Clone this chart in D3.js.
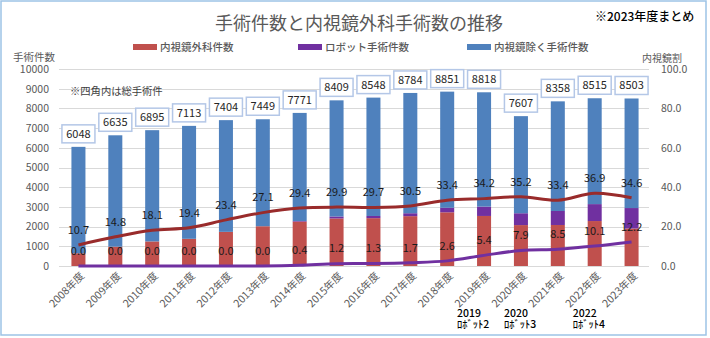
<!DOCTYPE html>
<html>
<head>
<meta charset="utf-8">
<script src="https://cdn.jsdelivr.net/npm/d3@7"></script>
<style>
  body { margin: 0; background: #fff; }
  svg { display: block; font-family: "Noto Sans CJK JP", "Noto Sans", sans-serif; }
</style>
</head>
<body>
<div id="chart"></div>
<script>
// Data
const years = ["2008", "2009", "2010", "2011", "2012", "2013", "2014", "2015",
  "2016", "2017", "2018", "2019", "2020", "2021", "2022", "2023"];
const totals = [6048, 6635, 6895, 7113, 7404, 7449, 7771, 8409, 8548, 8784, 8851, 8818, 7607, 8358, 8515, 8503];
const endoCounts = [647, 982, 1248, 1380, 1733, 2019, 2254, 2413, 2428, 2530, 2726, 2540, 2077, 2082, 2282, 1905];
const robotCounts = [0, 0, 0, 0, 0, 0, 31, 101, 111, 149, 230, 476, 601, 710, 860, 1037];
const otherCounts = [5401, 5653, 5647, 5733, 5671, 5430, 5486, 5895, 6009, 6105, 5895, 5802, 4929, 5566, 5373, 5561];
const endoRatio = [10.7, 14.8, 18.1, 19.4, 23.4, 27.1, 29.4, 29.9, 29.7, 30.5, 33.4, 34.2, 35.2, 33.4, 36.9, 34.6];
const robotRatio = [0.0, 0.0, 0.0, 0.0, 0.0, 0.0, 0.4, 1.2, 1.3, 1.7, 2.6, 5.4, 7.9, 8.5, 10.1, 12.2];
const leftTicks = [0, 1000, 2000, 3000, 4000, 5000, 6000, 7000, 8000, 9000, 10000];
const rightTicks = [0, 20, 40, 60, 80, 100];
const noteYears = ["2019", "2020", "2022"];
const noteLabels = [["2019", "ﾛﾎﾞｯﾄ2"], ["2020", "ﾛﾎﾞｯﾄ3"], ["2022", "ﾛﾎﾞｯﾄ4"]];
const seriesNames = ["内視鏡外科件数", "ロボット手術件数", "内視鏡除く手術件数"];

const W = 710, H = 338;
const plot = { left: 60, right: 650, top: 69, bottom: 266 };
const colors = { endo: "#C0504D", robot: "#7030A0", other: "#4F81BD", endoLine: "#992B2B", robotLine: "#7030A0" };
const noteShift = [-27, -17, -22];

const svg = d3.select("#chart").append("svg")
  .attr("width", W)
  .attr("height", H);

// outer frame
svg.append("rect")
  .attr("x", 1).attr("y", 1)
  .attr("width", 705).attr("height", 334)
  .attr("fill", "#fff")
  .attr("stroke", "#9DC3E6")
  .attr("stroke-width", 1.5);

const x = d3.scaleBand()
  .domain(years)
  .range([plot.left, plot.right])
  .paddingInner(0.62)
  .paddingOuter(0.31);

const y = d3.scaleLinear().domain([0, 10000]).range([plot.bottom, plot.top]);
const yR = d3.scaleLinear().domain([0, 100]).range([plot.bottom, plot.top]);
const cx = d => x(d) + x.bandwidth() / 2;

// gridlines
svg.append("g")
  .selectAll("line")
  .data(leftTicks)
  .join("line")
  .attr("x1", plot.left - 1)
  .attr("x2", plot.right - 1)
  .attr("y1", d => Math.round(y(d)) + 0.5)
  .attr("y2", d => Math.round(y(d)) + 0.5)
  .attr("stroke", "#D9D9D9")
  .attr("stroke-width", 1);

// left axis
const leftAxis = svg.append("g")
  .attr("transform", `translate(${plot.left - 1},0)`)
  .call(d3.axisLeft(y).tickValues(leftTicks).tickSize(0).tickPadding(10).tickFormat(d3.format("d")));
leftAxis.select(".domain").remove();
leftAxis.selectAll("text")
  .attr("fill", "#595959")
  .style("font-size", "10.5px")
  .style("font-family", "'Noto Sans CJK JP'");

// right axis
const rightAxis = svg.append("g")
  .attr("transform", `translate(${plot.right},0)`)
  .call(d3.axisRight(yR).tickValues(rightTicks).tickSize(0).tickPadding(11).tickFormat(d3.format(".1f")));
rightAxis.select(".domain").remove();
rightAxis.selectAll("text")
  .attr("fill", "#595959")
  .style("font-size", "10.5px")
  .style("font-family", "'Noto Sans CJK JP'");

// stacked bars
const rows = years.map((yr, i) => ({ year: yr, endo: endoCounts[i], robot: robotCounts[i], other: otherCounts[i] }));
const stack = d3.stack().keys(["endo", "robot", "other"])(rows);

svg.append("g")
  .selectAll("g")
  .data(stack)
  .join("g")
  .attr("fill", d => colors[d.key])
  .selectAll("rect")
  .data(d => d)
  .join("rect")
  .attr("x", d => x(d.data.year))
  .attr("width", x.bandwidth())
  .attr("y", d => y(d[1]))
  .attr("height", d => y(d[0]) - y(d[1]));

// ratio lines
const lineR = d3.line()
  .x((d, i) => cx(years[i]))
  .y(d => yR(d))
  .curve(d3.curveCatmullRom.alpha(0.5));

svg.append("path")
  .datum(robotRatio)
  .attr("d", lineR)
  .attr("fill", "none")
  .attr("stroke", colors.robotLine)
  .attr("stroke-width", 3);

svg.append("path")
  .datum(endoRatio)
  .attr("d", lineR)
  .attr("fill", "none")
  .attr("stroke", colors.endoLine)
  .attr("stroke-width", 3);

// ratio labels
function ratioLabels(values) {
  svg.append("g")
    .selectAll("text")
    .data(values)
    .join("text")
    .attr("x", (d, i) => cx(years[i]))
    .attr("y", d => yR(d) - 15)
    .attr("dy", "0.35em")
    .attr("text-anchor", "middle")
    .attr("fill", "#1a1a1a")
    .style("font-size", "11px")
    .text(d => d.toFixed(1));
}
ratioLabels(endoRatio);
ratioLabels(robotRatio);

// total boxes
const boxes = svg.append("g")
  .selectAll("g")
  .data(totals)
  .join("g")
  .attr("transform", (d, i) => `translate(${cx(years[i])},${y(d) - 13})`);

boxes.append("rect")
  .attr("x", -16.5)
  .attr("y", -9)
  .attr("width", 33)
  .attr("height", 18)
  .attr("fill", "#fff")
  .attr("stroke", "#B4C7E7")
  .attr("stroke-width", 1.5);

boxes.append("text")
  .attr("text-anchor", "middle")
  .attr("dy", "0.36em")
  .attr("fill", "#262626")
  .style("font-size", "11px")
  .text(d => d);

// x tick labels
svg.append("g")
  .selectAll("text")
  .data(years)
  .join("text")
  .attr("transform", d => `translate(${cx(d) + 4},${plot.bottom + 8}) rotate(-45)`)
  .attr("text-anchor", "end")
  .attr("dy", "0.35em")
  .attr("fill", "#595959")
  .style("font-size", "10.5px")
  .text(d => d + "年度");

// robot generation notes
noteYears.forEach((yr, k) => {
  const nx = cx(yr) + noteShift[k];
  const t = svg.append("text")
    .attr("x", nx)
    .attr("y", 313)
    .attr("fill", "#000")
    .style("font-size", "10.5px")
    .style("font-weight", 500);
  noteLabels[k].forEach((line, i) => {
    t.append("tspan")
      .attr("x", nx)
      .attr("dy", i === 0 ? "0.35em" : "1.1em")
      .text(line);
  });
});

// title
svg.append("text")
  .attr("x", 359)
  .attr("y", 24)
  .attr("dy", "0.35em")
  .attr("text-anchor", "middle")
  .attr("fill", "#595959")
  .style("font-size", "18px")
  .text("手術件数と内視鏡外科手術数の推移");

svg.append("text")
  .attr("x", 595)
  .attr("y", 17)
  .attr("dy", "0.35em")
  .attr("fill", "#000")
  .style("font-size", "12px")
  .style("font-weight", 500)
  .text("※2023年度まとめ");

// legend
const legendItems = [
  { name: seriesNames[0], color: colors.endo, x: 133 },
  { name: seriesNames[1], color: colors.robot, x: 298 },
  { name: seriesNames[2], color: colors.other, x: 467 }
];
const legend = svg.append("g")
  .selectAll("g")
  .data(legendItems)
  .join("g")
  .attr("transform", d => `translate(${d.x},47)`);
legend.append("rect")
  .attr("x", 0).attr("y", -3)
  .attr("width", 24).attr("height", 6)
  .attr("fill", d => d.color);
legend.append("text")
  .attr("x", 27)
  .attr("dy", "0.35em")
  .attr("fill", "#595959")
  .style("font-size", "10.5px")
  .style("font-weight", 500)
  .text(d => d.name);

// axis titles
svg.append("text")
  .attr("x", 13).attr("y", 57).attr("dy", "0.35em")
  .attr("fill", "#595959")
  .style("font-size", "10.5px")
  .text("手術件数");

svg.append("text")
  .attr("x", 642).attr("y", 58).attr("dy", "0.35em")
  .attr("fill", "#595959")
  .style("font-size", "10px")
  .text("内視鏡割");

// note
svg.append("text")
  .attr("x", 70).attr("y", 91).attr("dy", "0.35em")
  .attr("fill", "#404040")
  .style("font-size", "10.3px")
  .text("※四角内は総手術件");
</script>
</body>
</html>
